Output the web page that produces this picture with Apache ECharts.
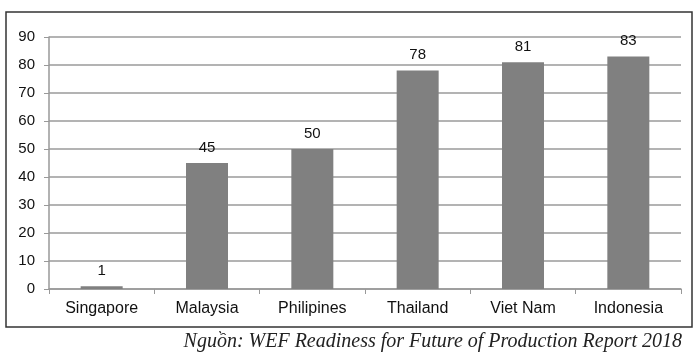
<!DOCTYPE html>
<html><head><meta charset="utf-8">
<script src="https://cdn.jsdelivr.net/npm/echarts@6/dist/echarts.min.js"></script>
<style>html,body{margin:0;padding:0;background:#fff}#c{width:700px;height:361px}</style>
</head><body><div id="c"></div>
<script>
const categories = ['Singapore','Malaysia','Philipines','Thailand','Viet Nam','Indonesia'];
const values = [1,45,50,78,81,83];
const yTicks = [0,10,20,30,40,50,60,70,80,90];
const caption = 'Ngu\u1ED3n: WEF Readiness for Future of Production Report 2018';

const chart = echarts.init(document.getElementById('c'), null, {renderer:'canvas'});
chart.setOption({
  animation:false,
  grid:{left:49,right:19,top:37,bottom:72},
  xAxis:{type:'category',data:categories,
    axisLine:{lineStyle:{color:'#999',width:1.5}},
    axisTick:{show:true,alignWithLabel:false,length:5,lineStyle:{color:'#999'}},
    axisLabel:{color:'#111',fontFamily:'Liberation Sans, Arial',fontSize:16,margin:12}},
  yAxis:{type:'value',min:yTicks[0],max:yTicks[yTicks.length-1],interval:10,
    axisLine:{show:true,lineStyle:{color:'#999',width:1.5}},
    axisTick:{show:true,length:5,lineStyle:{color:'#999'}},
    axisLabel:{color:'#111',fontFamily:'Liberation Sans, Arial',fontSize:15,margin:14},
    splitLine:{lineStyle:{color:'#9a9a9a',width:1.5}}},
  series:[{type:'bar',data:values,barWidth:42,
    itemStyle:{color:'#808080'},
    label:{show:true,position:'top',distance:8,color:'#111',fontFamily:'Liberation Sans, Arial',fontSize:15}}],
  graphic:[
    {type:'rect',shape:{x:6,y:12,width:686,height:315},style:{fill:'none',stroke:'#333',lineWidth:1.5},silent:true},
    {type:'text',right:18,top:332,style:{text:caption,font:'italic 20px "Liberation Serif", "Times New Roman", serif',fill:'#222'}}
  ]
});
</script></body></html>
